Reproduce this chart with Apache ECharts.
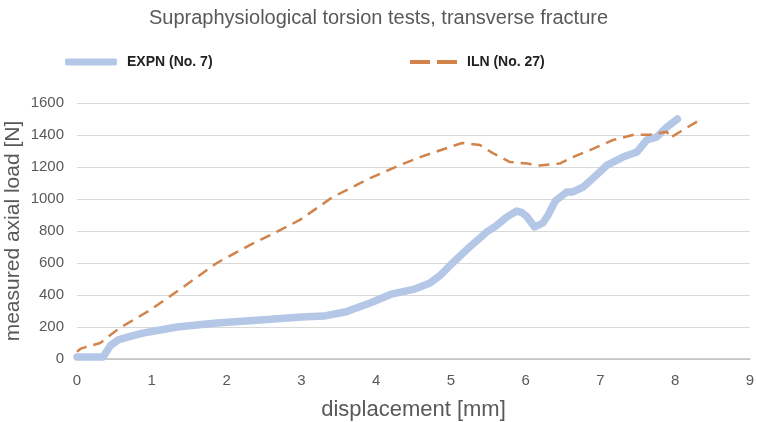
<!DOCTYPE html>
<html>
    <head>
        <meta charset="UTF-8">
        <title>Supraphysiological torsion tests</title>
        <script type="text/javascript" src="https://cdn.jsdelivr.net/npm/echarts@6/dist/echarts.min.js"></script>
    </head>
    <body style="height: 100%; margin: 0; overflow: hidden;">
        <div id="container" style="width: 757px; height: 422px;"></div>
    </body>
    <script type="text/javascript">
        // displacement [mm] / load [N] pairs
        var expnX = [0, 0.2, 0.35, 0.4, 0.45, 0.55, 0.7, 0.88, 1.0, 1.34, 1.5, 1.87, 2.5, 3.0, 3.3, 3.6, 3.8, 3.92, 4.2, 4.5, 4.72, 4.85, 5.0, 5.25, 5.48, 5.6, 5.75, 5.88, 5.95, 6.02, 6.12, 6.23, 6.3, 6.4, 6.55, 6.63, 6.77, 6.9, 7.09, 7.3, 7.49, 7.62, 7.75, 7.89, 8.03];
        var expnY = [12, 12, 12, 50, 85, 119, 140, 162, 172, 200, 208, 225, 245, 262, 268, 295, 330, 350, 405, 435, 475, 520, 590, 700, 794, 830, 888, 925, 915, 888, 825, 850, 900, 990, 1044, 1044, 1075, 1130, 1212, 1262, 1294, 1369, 1387, 1450, 1500];

        var ilnX = [0, 0.05, 0.31, 0.57, 0.98, 1.42, 1.87, 2.31, 2.67, 2.98, 3.42, 3.92, 4.32, 4.59, 4.95, 5.15, 5.39, 5.56, 5.79, 6.02, 6.19, 6.46, 6.63, 6.86, 7.17, 7.43, 7.66, 7.89, 7.93, 8.06, 8.37];
        var ilnY = [45, 65, 100, 194, 306, 450, 600, 712, 794, 869, 1012, 1131, 1212, 1262, 1319, 1350, 1337, 1287, 1231, 1222, 1210, 1222, 1262, 1306, 1369, 1400, 1402, 1420, 1381, 1419, 1506];

        var xTicks = [0, 1, 2, 3, 4, 5, 6, 7, 8, 9];
        var yTicks = [0, 200, 400, 600, 800, 1000, 1200, 1400, 1600];

        function pairs(xs, ys) {
            var out = [];
            for (var i = 0; i < xs.length; i++) out.push([xs[i], ys[i]]);
            return out;
        }

        var myChart = echarts.init(document.getElementById('container'), null, { renderer: 'canvas' });
        var font = 'Liberation Sans, Arial, sans-serif';
        var grey = '#595959';
        var blue = '#B4C7E7';
        var orange = '#D2834A';

        var option = {
            animation: false,
            backgroundColor: '#ffffff',
            textStyle: { fontFamily: font },
            title: {
                text: 'Supraphysiological torsion tests, transverse fracture',
                left: 'center',
                top: 3,
                textStyle: { fontFamily: font, fontSize: 20, fontWeight: 'normal', color: grey }
            },
            legend: [
                {
                    data: [{ name: 'EXPN (No. 7)', icon: 'roundRect' }],
                    left: 60,
                    top: 50,
                    itemWidth: 52,
                    itemHeight: 7,
                    itemGap: 14,
                    itemStyle: { color: blue },
                    textStyle: { fontFamily: font, fontSize: 14, fontWeight: 'bold', color: '#222', padding: [0, 0, 0, 5] }
                },
                {
                    data: [{ name: 'ILN (No. 27)', icon: 'path://M0,0 h20 v4 h-20 z M27,0 h20 v4 h-20 z' }],
                    left: 405,
                    top: 50,
                    itemWidth: 47,
                    itemHeight: 4,
                    itemStyle: { color: orange },
                    textStyle: { fontFamily: font, fontSize: 14, fontWeight: 'bold', color: '#222', padding: [0, 0, 0, 5] }
                }
            ],
            grid: { left: 77, right: 7, top: 103, bottom: 63, outerBoundsMode: 'none', containLabel: false },
            xAxis: {
                type: 'value',
                min: 0,
                max: 9,
                interval: 1,
                name: 'displacement [mm]',
                nameLocation: 'middle',
                nameGap: 40,
                nameMoveOverlap: false,
                nameTextStyle: { fontFamily: font, fontSize: 22, color: grey },
                axisLine: { show: true, lineStyle: { color: '#BFBFBF', width: 1.5 } },
                axisTick: { show: false },
                splitLine: { show: false },
                axisLabel: { color: grey, fontSize: 15, margin: 14, fontFamily: font }
            },
            yAxis: {
                type: 'value',
                min: 0,
                max: 1600,
                interval: 200,
                name: 'measured axial load [N]',
                nameLocation: 'middle',
                nameGap: 53,
                nameMoveOverlap: false,
                nameTextStyle: { fontFamily: font, fontSize: 21, color: grey },
                axisLine: { show: false },
                axisTick: { show: false },
                splitLine: { lineStyle: { color: '#D9D9D9', width: 1.2 } },
                axisLabel: { color: grey, fontSize: 15, margin: 13, fontFamily: font, formatter: function (v) { return String(v); } }
            },
            series: [
                {
                    name: 'EXPN (No. 7)',
                    type: 'line',
                    symbol: 'none',
                    data: pairs(expnX, expnY),
                    lineStyle: { color: blue, width: 7.5, cap: 'round', join: 'round' },
                    itemStyle: { color: blue },
                    z: 2
                },
                {
                    name: 'ILN (No. 27)',
                    type: 'line',
                    symbol: 'none',
                    data: pairs(ilnX, ilnY),
                    lineStyle: { color: orange, width: 2.5, type: [11, 7] },
                    itemStyle: { color: orange },
                    z: 3
                }
            ]
        };

        myChart.setOption(option);
    </script>
</html>
